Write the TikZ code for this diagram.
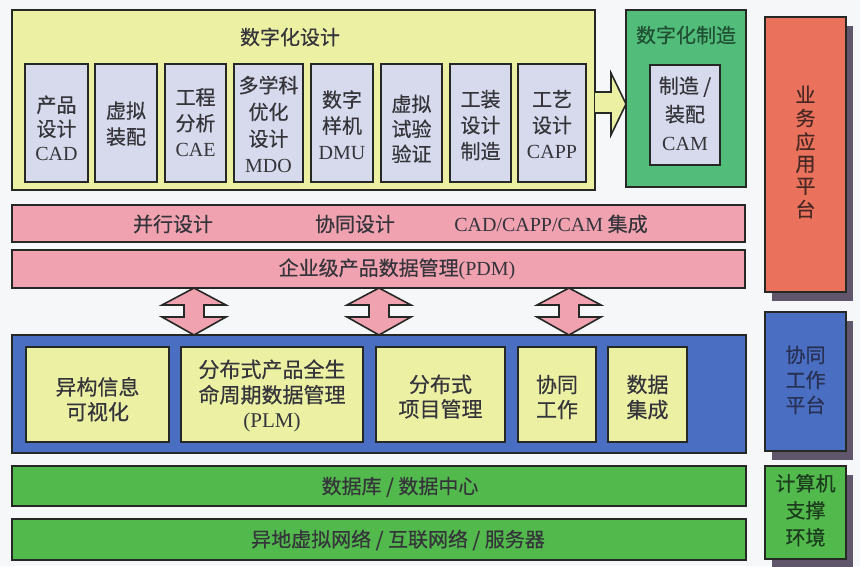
\documentclass[tikz,border=0pt]{standalone}
\usepackage{fontspec}
\setmainfont{Noto Sans CJK SC}[FakeBold=0.4]
\newfontfamily\lat{Liberation Serif}
\usetikzlibrary{shadows,calc}

\definecolor{bg}{RGB}{246,247,249}
\definecolor{ylw}{RGB}{236,240,163}
\definecolor{lav}{RGB}{214,218,236}
\definecolor{mgreen}{RGB}{82,188,122}
\definecolor{redc}{RGB}{234,114,92}
\definecolor{pinkc}{RGB}{240,162,176}
\definecolor{bluec}{RGB}{74,110,194}
\definecolor{greenc}{RGB}{82,186,76}
\definecolor{shad}{RGB}{96,86,108}
\definecolor{edge}{RGB}{38,40,38}
\definecolor{txt}{RGB}{52,52,58}
\definecolor{gtxt}{RGB}{32,80,50}

% stacked lines; #1 = extra space (pt) above the first line, which lowers the block by half of it
\newcommand\stk[2]{\begin{tabular}{@{}c@{}}\rule{0pt}{\dimexpr\ht\strutbox+#1pt\relax}#2\end{tabular}}

% box node from its corners: #1 style, #2 name, #3 x1, #4 y1, #5 x2, #6 y2, #7 text
\newcommand\bx[7]{%
  \pgfmathsetmacro\bxw{#5-#3}\pgfmathsetmacro\bxh{#6-#4}%
  \pgfmathsetmacro\bxx{(#3+#5)/2}\pgfmathsetmacro\bxy{(#4+#6)/2}%
  \node[#1, minimum width=\bxw pt, minimum height=\bxh pt] (#2) at (\bxx,\bxy) {#7};}

\newcommand\dblarrow[1]{%
  \draw[base, fill=pinkc] (#1t) -- ($(#1t)+(32,17)$) -- ($(#1t)+(10,17)$) -- ($(#1b)+(10,-18)$)
    -- ($(#1b)+(32,-18)$) -- (#1b) -- ($(#1b)+(-32,-18)$) -- ($(#1b)+(-10,-18)$)
    -- ($(#1t)+(-10,17)$) -- ($(#1t)+(-32,17)$) -- cycle;}

\begin{document}
\begin{tikzpicture}[x=1pt,y=-1pt,
  every node/.style={inner sep=0pt, outer sep=0pt, text=txt, font=\fontsize{20}{26}\selectfont},
  base/.style={draw=edge, line width=1.6pt, line join=miter},
  panel/.style={base, fill=ylw},
  sub/.style={base, fill=lav},
  mfg/.style={base, fill=mgreen},
  bar/.style={base, fill=pinkc},
  colab/.style={base, fill=bluec},
  net/.style={base, fill=greenc},
  lowbox/.style={base, fill=ylw, font=\fontsize{21}{24}\selectfont},
  side/.style={base, drop shadow={shadow xshift=7pt, shadow yshift=-9pt, fill=shad, opacity=1}},
  label/.style={font=\fontsize{20}{26}\selectfont}
]
\useasboundingbox[fill=bg] (0,0) rectangle (860,566);

% ---- digital design ----
\bx{panel}{dd}{12}{10}{595}{190}{}
\node[label] (ddt) at (290,37) {数字化设计};
\bx{sub, font=\fontsize{20}{24}\selectfont}{cad}{25}{64}{88}{182}{\stk{17}{产品\\设计\\{\lat CAD}}}
\bx{sub}{va}{95}{64}{157}{182}{\stk{6}{虚拟\\装配}}
\bx{sub}{cae}{165}{64}{226}{182}{\stk{5}{工程\\分析\\{\lat CAE}}}
\bx{sub, font=\fontsize{20}{26.7}\selectfont}{mdo}{234}{64}{303}{182}{\stk{9}{多学科\\优化\\设计\\{\lat MDO}}}
\bx{sub}{dmu}{311}{64}{373}{182}{\stk{10}{数字\\样机\\{\lat DMU}}}
\bx{sub, font=\fontsize{20}{25}\selectfont}{vt}{381}{64}{442}{182}{\stk{17}{虚拟\\试验\\验证}}
\bx{sub}{tool}{450}{64}{511}{182}{\stk{9}{工装\\设计\\制造}}
\bx{sub}{capp}{518}{64}{586}{182}{\stk{9}{工艺\\设计\\{\lat CAPP}}}

% ---- digital manufacturing ----
\bx{mfg}{mf}{626}{10}{746}{187}{}
\node[label, text=gtxt] (mft) at (686,35) {数字化制造};
\bx{sub, font=\fontsize{20}{28.5}\selectfont}{cam}{650}{65}{720}{165}{\stk{2}{制造 /\\装配\\{\lat CAM}}}

% block arrow design -> manufacturing
\draw[base, fill=ylw] let \p1=(dd.east), \p2=(mf.west) in
  (\x1,92) -- (\x2-15pt,92) -- (\x2-15pt,73) -- (\x2,104) -- (\x2-15pt,135) -- (\x2-15pt,113) -- (\x1,113);

% ---- pink bars ----
\bx{bar}{cd}{12}{205}{745}{242}{}
\node[label] (cd1) at (173,224) {并行设计};
\node[label] (cd2) at (355,224) {协同设计};
\node[label] (cd3) at (551,224) {{\lat CAD/CAPP/CAM} 集成};
\bx{bar}{pdm}{12}{250}{745}{288}{}
\node[label] (pdmt) at (397,269) {企业级产品数据管理{\lat (PDM)}};

% ---- collaboration layer ----
\bx{colab}{col}{12}{335}{746}{453}{}
\bx{lowbox}{vis}{26}{347}{169}{442}{\stk{16}{异构信息\\可视化}}
\bx{lowbox, font=\fontsize{21}{25}\selectfont}{plm}{181}{347}{363}{442}{\stk{6}{分布式产品全生\\命周期数据管理\\{\lat (PLM)}}}
\bx{lowbox, font=\fontsize{21}{23}\selectfont}{pm}{376}{347}{505}{442}{\stk{11}{分布式\\项目管理}}
\bx{lowbox, font=\fontsize{21}{25}\selectfont}{cw}{518}{347}{596}{442}{\stk{11}{协同\\工作}}
\bx{lowbox, font=\fontsize{21}{25}\selectfont}{di}{608}{347}{687}{442}{\stk{11}{数据\\集成}}

% double arrows PDM <-> collaboration layer
\path (194,0) coordinate (xa) (379,0) coordinate (xb) (569,0) coordinate (xc);
\coordinate (at) at (pdm.south -| xa); \coordinate (ab) at (col.north -| xa);
\coordinate (bt) at (pdm.south -| xb); \coordinate (bb) at (col.north -| xb);
\coordinate (ct) at (pdm.south -| xc); \coordinate (cb) at (col.north -| xc);
\dblarrow{a}\dblarrow{b}\dblarrow{c}

% ---- network layers ----
\bx{net}{db}{12}{466}{746}{506}{}
\node[label] (dbt) at (400,487) {数据库 / 数据中心};
\bx{net}{nw}{12}{519}{746}{560}{}
\node[label] (nwt) at (398,540) {异地虚拟网络 / 互联网络 / 服务器};

% ---- side platforms ----
\bx{side, fill=redc, text={rgb,255:red,72;green,40;blue,36}, font=\fontsize{20}{22}\selectfont}{biz}{765}{17}{846}{292}{\stk{0}{业\\务\\应\\用\\平\\台}}
\bx{side, fill=bluec, text={rgb,255:red,40;green,48;blue,84}, font=\fontsize{20}{25}\selectfont}{cwp}{765}{312}{846}{451}{\stk{2}{协同\\工作\\平台}}
\bx{side, fill=greenc, text={rgb,255:red,28;green,60;blue,30}, font=\fontsize{20}{27}\selectfont}{env}{765}{466}{846}{559}{\stk{0}{计算机\\支撑\\环境}}
\end{tikzpicture}
\end{document}
